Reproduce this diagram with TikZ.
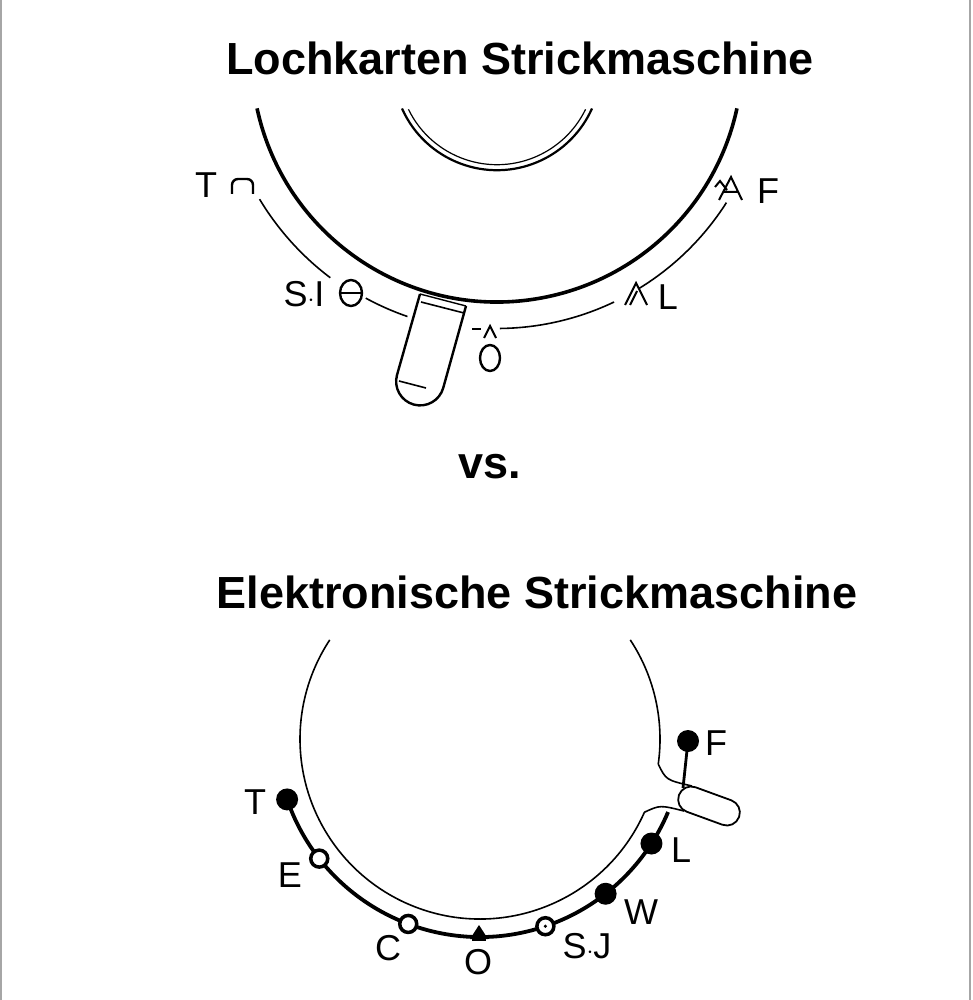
\documentclass[tikz,border=0pt]{standalone}
\usepackage{fontspec}
\setmainfont{Liberation Sans}
\usetikzlibrary{calc}
\begin{document}
\begin{tikzpicture}[x=1pt,y=-1pt,
  lbl/.style={font=\fontsize{36}{36}\selectfont},
  ttl/.style={font=\fontsize{45}{45}\selectfont\bfseries},
  thin/.style={line width=1.6pt},
  thick/.style={line width=3.8pt},
  fdot/.style={circle,fill=black,inner sep=0pt,minimum size=22pt},
  odot/.style={circle,draw=black,fill=white,line width=3.5pt,inner sep=0pt,minimum size=17pt}]
\useasboundingbox (0,0) rectangle (972,1000);
\draw[gray!70,line width=1.5pt] (1,0) -- (1,1000) (970,0) -- (970,1000);
% titles
\node[ttl] (t1) at (520,58) {Lochkarten Strickmaschine};
\node[ttl] (vs) at (490,467) {vs.};
\node[ttl] (t2) at (537,592) {Elektronische Strickmaschine};
% ---------- top dial
\coordinate (c1) at (497,56.5);
\draw[line width=3.6pt] ($(c1)+(167.8:245.5)$) arc[start angle=167.8,end angle=12.2,radius=245.5];
\coordinate (c2) at (497,66.2);
\draw[line width=2.2pt] ($(c2)+(156:104)$) arc[start angle=156,end angle=24,radius=104];
\draw[line width=1.2pt] ($(c2)+(154:98.5)$) arc[start angle=154,end angle=26,radius=98.5];
\draw[thin] ($(c1)+(149:277)$) arc[start angle=149,end angle=127,radius=277];
\draw[thin] ($(c1)+(118.5:275)$) arc[start angle=118.5,end angle=109,radius=275];
\draw[thin] ($(c1)+(89.4:272)$) arc[start angle=89.4,end angle=64.5,radius=272];
\draw[thin] ($(c1)+(58.5:272)$) arc[start angle=58.5,end angle=32.5,radius=272];
% lever
\draw[line width=2.4pt,fill=white] (420,294) -- (397,375) arc[start angle=195.5,end angle=15.5,radius=24] -- (466,306);
\draw[line width=1.4pt] (420,294) -- (466,306);
\draw[line width=1.6pt] (421,302) -- (464,313);
\draw[line width=1.6pt] (399,381) -- (426,388);
% labels
\node[lbl] (lT) at (206,185) {T};
\draw[line width=2.4pt,rounded corners=6] (232,194) -- (232,179) -- (253,179) -- (253,194);
\node[lbl] (lSI) at (304,294) {S$\cdot$I};
\draw[line width=2.4pt] (351,293) ellipse[x radius=11,y radius=13];
\draw[line width=2.4pt] (340,293) -- (362,293);
\draw[line width=1.6pt] (472,329) -- (481,329);
\draw[line width=2pt] (484,338) -- (490,326) -- (496,338);
\draw[line width=2.4pt] (490,358) ellipse[x radius=10,y radius=13];
\draw[line width=2pt] (625,305) -- (636,283) -- (647,305) (630,305) -- (637,291);
\node[lbl] (lL) at (668,297) {L};
\draw[line width=2pt] (719,200) -- (731,177) -- (742,200) (715,187) -- (720,181) -- (727,190) (724,192)--(738,192);
\node[lbl] (lF) at (768,191) {F};
% ---------- bottom dial
\coordinate (c3) at (480,739);
\draw[line width=1.6pt] ($(c3)+(-33.4:180)$) arc[start angle=-33.4,end angle=8,radius=180];
\draw[line width=1.6pt] ($(c3)+(24:180)$) arc[start angle=24,end angle=213.4,radius=180];
\draw[line width=1.6pt] ($(c3)+(8:180)$) .. controls (666,780) .. (692,786);
\draw[line width=1.6pt] ($(c3)+(24:180)$) .. controls (660,805) .. (684,811);
\coordinate (c4) at (480,733);
\draw[thick] ($(c4)+(161:204)$) arc[start angle=161,end angle=22.8,radius=204];
\draw[line width=2.8pt] (683,788) -- (688,741);
\draw[line width=1.8pt,fill=white] (695.6,787.3) -- (731.3,800.3) arc[start angle=-70,end angle=110,radius=13] -- (686.7,811.7) arc[start angle=110,end angle=290,radius=13];
\node[fdot] (dT) at ($(c4)+(161:204)$) {};
\node[odot] (dE) at ($(c4)+(142:204)$) {};
\node[odot] (dC) at ($(c4)+(110.6:204)$) {};
\node[odot] (dS) at ($(c4)+(71.3:204)$) {};
\fill (dS) circle (1.8pt);
\node[fdot] (dW) at ($(c4)+(52:204)$) {};
\node[fdot] (dL) at ($(c4)+(32.8:204)$) {};
\node[fdot] (dF) at (688,741) {};
\fill (472,937) rectangle (486,941);
\fill (470,939) -- (479,925) -- (488,939) -- cycle;
\node[lbl] (bT) at (255,802) {T};
\node[lbl] (bE) at (290,875) {E};
\node[lbl] (bC) at (388,948) {C};
\node[lbl] (bO) at (478,962) {O};
\node[lbl] (bS) at (587,946) {S$\cdot$J};
\node[lbl] (bW) at (641,912) {W};
\node[lbl] (bL) at (681,850) {L};
\node[lbl] (bF) at (716,743) {F};
\end{tikzpicture}
\end{document}
